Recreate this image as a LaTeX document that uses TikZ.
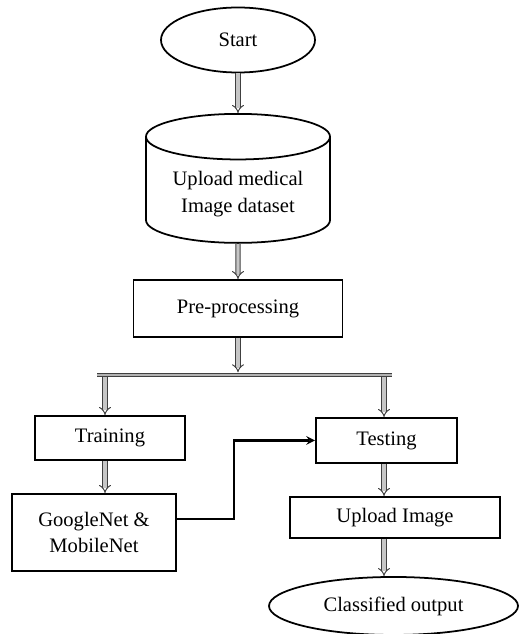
\documentclass[tikz,border=0pt]{standalone}
\usepackage{fontspec}
\setmainfont{Liberation Serif}
\usetikzlibrary{shapes.geometric, arrows}
\tikzstyle{startstop} = [ellipse, inner sep=1pt, text centered, draw=black, line width=1pt]
\tikzstyle{database} = [cylinder, shape border rotate=90, aspect=0.32, minimum width=3.68cm, minimum height=2.58cm, text centered, draw=black, line width=1pt, align=center]
\tikzstyle{process} = [rectangle, text centered, draw=black, line width=1.1pt]
\tikzstyle{arrow} = [draw=black!75, double=gray!45, double distance=1.8pt, line width=0.55pt, -implies]
\tikzstyle{bar} = [draw=black!75, double=gray!60, double distance=1.6pt, line width=0.6pt]
\tikzstyle{link} = [line width=1.2pt, ->, >=stealth]

\begin{document}
\begin{tikzpicture}[node distance=2cm, font=\fontsize{11.7}{15}\selectfont]
\useasboundingbox [fill=white] (0,0) rectangle (10.38,-12.68);
\node (start) [startstop, minimum width=3.08cm, minimum height=1.3cm] at (4.76,-0.8) {Start};
\node (data) [database, below of = start, anchor = north, yshift = 0.54cm]{Upload medical\\Image dataset};
\node (pre) [process, below of = start, yshift = -3.37cm, minimum width = 4.18cm, minimum height = 1.14cm]{Pre-processing};
\coordinate (fork) at ([yshift = -0.74cm]pre.south);
\coordinate (forkl) at ([xshift = -2.66cm]fork);
\coordinate (forkr) at ([xshift = 2.92cm]fork);
\node (train) [process, below of = forkl, xshift = 0.1cm, yshift = 0.74cm, minimum width = 3cm, minimum height = 0.88cm]{Training};
\node (test) [process, below of = forkr, xshift = 0.05cm, yshift = 0.69cm, minimum width = 2.82cm, minimum height = 0.9cm]{Testing};
\node (nets) [process, below of = train, xshift = -0.32cm, yshift = 0.11cm, minimum width = 3.28cm, minimum height = 1.54cm, align=center]{GoogleNet \&\\MobileNet};
\node (upload) [process, below of = test, xshift = 0.17cm, yshift = 0.46cm, minimum width = 4.2cm, minimum height = 0.82cm]{Upload Image};
\node (out) [startstop, below of = upload, xshift = -0.03cm, yshift = 0.23cm, minimum width = 4.98cm, minimum height = 1.16cm]{Classified output};
\draw [arrow] (start) -- (data);
\draw [arrow] (data) -- (pre);
\draw [arrow, shorten >=1.5pt] (pre) -- (fork);
\draw [arrow] (forkl) -- (forkl |- train.north);
\draw [arrow] (forkr) -- (forkr |- test.north);
\draw [bar] ([xshift = -0.16cm]forkl) -- ([xshift = 0.16cm]forkr);
\draw [arrow] (forkl |- train.south) -- (forkl |- nets.north);
\draw [arrow] (forkr |- test.south) -- (forkr |- upload.north);
\draw [arrow] (forkr |- upload.south) -- (forkr |- out.north);
\draw [link] ([yshift = 0.27cm]nets.east) -- ++(1.14cm,0) |- (test.west);
\end{tikzpicture}
\end{document}
